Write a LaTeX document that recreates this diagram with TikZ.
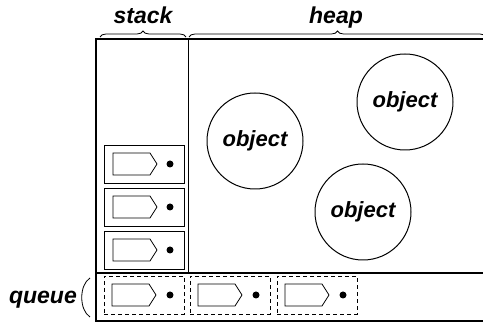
\documentclass[tikz,border=0pt]{standalone}
\usepackage{fontspec}
\setmainfont{Liberation Sans}
\usetikzlibrary{decorations.pathreplacing}
\tikzset{
  lbl/.style={font=\fontsize{23}{25}\selectfont\bfseries\itshape, inner sep=0},
  frame/.style={line width=1.7pt},
  thin/.style={line width=0.9pt},
  cellbox/.style={draw, line width=0.9pt, minimum width=80pt, minimum height=38pt, inner sep=0},
  qbox/.style={cellbox, dash pattern=on 4pt off 3pt},
  obj/.style={circle, draw, line width=1pt, minimum size=96pt, inner sep=0, font=\fontsize{22}{24}\selectfont\bfseries\itshape},
  dotn/.style={circle, fill=black, minimum size=7pt, inner sep=0},
  bracestyle/.style={decorate, decoration={brace, amplitude=6pt}, line width=0.8pt},
  pics/tag/.style={code={\draw[line width=0.8pt] (-22,-11) -- (15,-11) -- (22,0) -- (15,11) -- (-22,11) -- cycle;}}
}
\begin{document}
\begin{tikzpicture}[x=1pt,y=-1pt]
\useasboundingbox (0,0) rectangle (483,323);
% frame
\coordinate (tr) at (486,39);
\coordinate (tl) at (96,39);
\coordinate (bl) at (96,321);
\coordinate (br) at (486,321);
\coordinate (ql) at (96,273);
\coordinate (qr) at (486,273);
\coordinate (dt) at (188,39);
\coordinate (db) at (188,273);
\draw[frame] (tr) -- (tl) -- (bl) -- (br);
\draw[frame] (ql) -- (qr);
\draw[thin] (dt) -- (db);
% braces and labels
\coordinate (sb1) at (100,37);
\coordinate (sb2) at (186,37);
\coordinate (hb1) at (189,37);
\coordinate (hb2) at (486,37);
\draw[bracestyle] (sb1) -- (sb2);
\draw[bracestyle] (hb1) -- (hb2);
\node[lbl, anchor=base] (stacklbl) at (143,24) {stack};
\node[lbl, anchor=base] (heaplbl) at (336,24) {heap};
\node[lbl, anchor=base east] (queuelbl) at (77,304) {queue};
\coordinate (p1) at (90,278);
\coordinate (p2) at (90,317);
\draw[line width=0.8pt] (p1) .. controls (79,285) and (79,310) .. (p2);
% stack cells
\foreach \n/\y in {s1/164, s2/207, s3/250} {
  \node[cellbox] (\n) at (144,\y) {};
  \pic at ([xshift=-9pt]\n.center) {tag};
  \node[dotn] (\n d) at ([xshift=26pt]\n.center) {};
}
% queue cells
\foreach \n/\x in {q1/144, q2/230, q3/317} {
  \node[qbox] (\n) at (\x,295) {};
  \pic at ([xshift=-10pt]\n.center) {tag};
  \node[dotn] (\n d) at ([xshift=26pt]\n.center) {};
}
% objects
\node[obj] (o1) at (255,141) {object};
\node[obj] (o2) at (405,102) {object};
\node[obj] (o3) at (363,212) {object};
\end{tikzpicture}
\end{document}
